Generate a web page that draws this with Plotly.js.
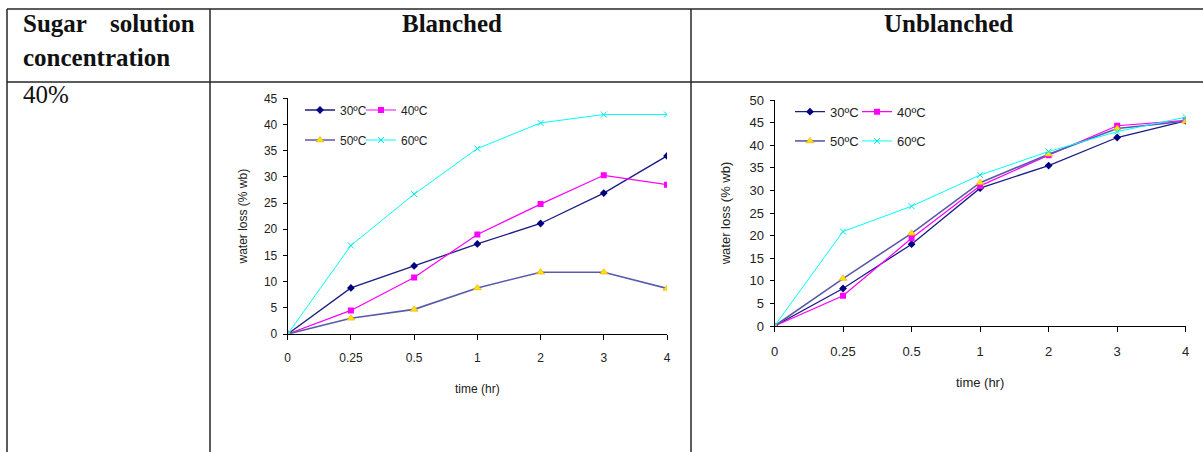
<!DOCTYPE html>
<html>
<head>
<meta charset="utf-8">
<script src="https://cdn.plot.ly/plotly-3.0.1.min.js"></script>
<style>
  html, body { margin: 0; padding: 0; background: #fff; }
  #chart { width: 1203px; height: 452px; }
</style>
</head>
<body>
<div id="chart"></div>
<script>
// Water loss (% wb) of samples dried at four temperatures, 40% sugar solution
const times = ['0', '0.25', '0.5', '1', '2', '3', '4'];
const seriesNames = ['30ºC', '40ºC', '50ºC', '60ºC'];

const blanched30 = [0, 8.8, 13.0, 17.2, 21.1, 26.9, 34.0];
const blanched40 = [0, 4.5, 10.8, 19.0, 24.8, 30.3, 28.5];
const blanched50 = [0, 3.0, 4.7, 8.8, 11.8, 11.8, 8.7];
const blanched60 = [0, 16.9, 26.7, 35.4, 40.3, 41.9, 41.9];

const unblanched30 = [0, 8.3, 18.1, 30.5, 35.5, 41.7, 45.4];
const unblanched40 = [0, 6.7, 19.4, 31.0, 37.8, 44.3, 45.5];
const unblanched50 = [0, 10.5, 20.5, 31.7, 38.0, 43.7, 45.3];
const unblanched60 = [0, 20.9, 26.5, 33.4, 38.6, 43.0, 46.2];

const W = 1203, H = 452;
const px = x => x / W;        // pixel column -> paper x
const py = y => 1 - y / H;    // pixel row -> paper y

const styles = [
  { line: { color: '#1c1c86', width: 1.3 }, marker: { symbol: 'diamond', size: 6, color: '#000080' } },
  { line: { color: '#ff00ff', width: 1.2 }, marker: { symbol: 'square', size: 6, color: '#ff00ff' } },
  { line: { color: '#5a5aaa', width: 1.6 }, marker: { symbol: 'triangle-up', size: 7, color: '#ffe600', line: { color: '#f0a000', width: 0.6 } } },
  { line: { color: '#00ffff', width: 1 }, marker: { symbol: 'x-thin', size: 6, color: '#00e5e5', line: { color: '#00e5e5', width: 1 } } }
];

// each series gets its own legend box so the 2x2 key can be placed freely
function makeTraces(values, xa, ya, legendIds) {
  return values.map((v, i) => Object.assign({
    type: 'scatter',
    mode: 'lines+markers',
    name: seriesNames[i],
    x: times,
    y: v,
    xaxis: xa,
    yaxis: ya,
    legend: legendIds[i],
    hoverinfo: 'skip'
  }, styles[i]));
}

const traces = [
  ...makeTraces([blanched30, blanched40, blanched50, blanched60], 'x', 'y',
                ['legend', 'legend2', 'legend3', 'legend4']),
  ...makeTraces([unblanched30, unblanched40, unblanched50, unblanched60], 'x2', 'y2',
                ['legend5', 'legend6', 'legend7', 'legend8'])
];

const axisFont = 'Liberation Sans, Arial, sans-serif';
const textColor = '#222';

function xAxis(dom, fs, yAnchor, standoff) {
  return {
    domain: dom, anchor: yAnchor, type: 'category',
    categoryorder: 'array', categoryarray: times, range: [0, times.length - 1],
    showgrid: false, zeroline: false, showline: true, linecolor: '#000', linewidth: 1,
    ticks: 'outside', ticklen: 5, tickcolor: '#000', ticklabelstandoff: 8,
    tickfont: { family: axisFont, size: fs, color: textColor },
    title: { text: 'time (hr)', font: { family: axisFont, size: fs, color: textColor }, standoff: standoff },
    fixedrange: true
  };
}

function yAxis(dom, max, fs, xAnchor, standoff) {
  return {
    domain: dom, anchor: xAnchor, range: [0, max], tick0: 0, dtick: 5,
    showgrid: false, zeroline: false, showline: true, linecolor: '#000', linewidth: 1,
    ticks: 'outside', ticklen: 4, tickcolor: '#000', ticklabelstandoff: 3,
    tickfont: { family: axisFont, size: fs, color: textColor },
    title: { text: 'water loss (% wb)', font: { family: axisFont, size: fs, color: textColor }, standoff: standoff },
    fixedrange: true
  };
}

function legendAt(x, y, fs) {
  return {
    orientation: 'h', x: px(x), y: py(y), xanchor: 'left', yanchor: 'middle',
    bgcolor: 'rgba(0,0,0,0)', borderwidth: 0,
    font: { family: axisFont, size: fs, color: textColor }, itemclick: false, itemdoubleclick: false
  };
}

const ruleColor = '#262626';
function hLine(y, x0, x1) {
  return { type: 'line', xref: 'paper', yref: 'paper', x0: px(x0), x1: px(x1), y0: py(y), y1: py(y), line: { color: ruleColor, width: 1.5 } };
}
function vLine(x, y0, y1) {
  return { type: 'line', xref: 'paper', yref: 'paper', x0: px(x), x1: px(x), y0: py(y0), y1: py(y1), line: { color: ruleColor, width: 1.5 } };
}

const serif = 'Liberation Serif, Times New Roman, serif';
function label(text, x, y, anchor, size, bold) {
  return {
    xref: 'paper', yref: 'paper', x: px(x), y: py(y), xanchor: anchor, yanchor: 'middle',
    text: bold ? '<b>' + text + '</b>' : text, showarrow: false,
    font: { family: serif, size: size, color: '#111' }
  };
}

const layout = {
  width: W, height: H,
  margin: { l: 0, r: 0, t: 0, b: 0, pad: 0 },
  paper_bgcolor: '#fff', plot_bgcolor: 'rgba(0,0,0,0)',
  showlegend: true,
  xaxis: xAxis([px(287.7), px(667)], 12, 'y', 20),
  yaxis: yAxis([py(334), py(98.3)], 45, 12, 'x', 13),
  xaxis2: xAxis([px(774.5), px(1185.7)], 13, 'y2', 20),
  yaxis2: yAxis([py(326), py(100)], 50, 13, 'x2', 15),
  legend: legendAt(300, 110, 12),
  legend2: legendAt(361, 110, 12),
  legend3: legendAt(300, 140, 12),
  legend4: legendAt(361, 140, 12),
  legend5: legendAt(790, 111.7, 13),
  legend6: legendAt(857, 111.7, 13),
  legend7: legendAt(790, 141, 13),
  legend8: legendAt(857, 141, 13),
  shapes: [
    hLine(9, 7, 1203),
    hLine(82, 7, 1203),
    vLine(7, 9, 452),
    vLine(210, 9, 452),
    vLine(691, 9, 452)
  ],
  annotations: [
    label('Sugar', 21, 23.5, 'left', 25, true),
    label('solution', 197, 23.5, 'right', 25, true),
    label('concentration', 21, 58, 'left', 25, true),
    label('Blanched', 451.5, 23, 'center', 25, true),
    label('Unblanched', 948, 23, 'center', 25, true),
    label('40%', 21, 94, 'left', 25, false)
  ]
};

Plotly.newPlot('chart', traces, layout, { staticPlot: true, displayModeBar: false });
</script>
</body>
</html>
